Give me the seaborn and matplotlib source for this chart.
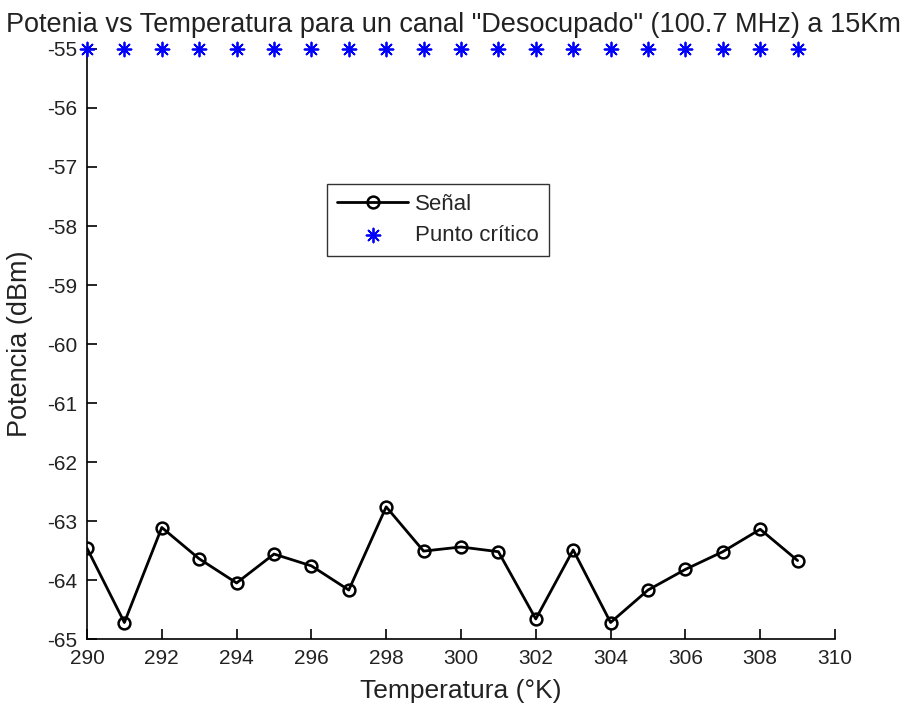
import matplotlib
matplotlib.use("Agg")
import matplotlib.pyplot as plt
import seaborn as sns
import pandas as pd

# Temperature sweep (°K) and measured power (dBm)
temperatura = [290, 291, 292, 293, 294, 295, 296, 297, 298, 299,
               300, 301, 302, 303, 304, 305, 306, 307, 308, 309]
potencia = [-63.46, -64.72, -63.11, -63.64, -64.05, -63.56, -63.76, -64.17, -62.76, -63.51,
            -63.44, -63.52, -64.66, -63.49, -64.72, -64.17, -63.82, -63.52, -63.14, -63.67]
# Critical threshold level
umbral = [-55.0] * len(temperatura)

xticks = [290, 292, 294, 296, 298, 300, 302, 304, 306, 308, 310]
yticks = [-65, -64, -63, -62, -61, -60, -59, -58, -57, -56, -55]

df = pd.DataFrame({"T": temperatura, "P": potencia, "U": umbral})

sns.set_theme(style="white")
plt.rcParams["font.family"] = ["Liberation Sans", "DejaVu Sans"]

fig = plt.figure(figsize=(9.08, 7.09), dpi=100)
ax = fig.add_axes([0.0958, 0.0987, 0.8238, 0.8322])

sns.lineplot(data=df, x="T", y="P", ax=ax, color="black", linewidth=2.0,
             marker="o", markersize=8.5, markerfacecolor="none",
             markeredgecolor="black", markeredgewidth=1.8, label="Señal")
sns.scatterplot(data=df, x="T", y="U", ax=ax, color=(0, 0, 1),
                marker=(8, 2, 0), s=100, linewidth=1.3,
                edgecolor=(0, 0, 1), label="Punto crítico", clip_on=False,
                zorder=5)

ax.set_xlim(290, 310)
ax.set_ylim(-65, -55)
ax.set_xticks(xticks)
ax.set_yticks(yticks)
ax.set_xticklabels([str(v) for v in xticks])
ax.set_yticklabels([str(v) for v in yticks])
ax.tick_params(axis="x", direction="in", length=7, width=1.2,
               labelsize=15, color="black", labelcolor="#222222", pad=7)
ax.tick_params(axis="y", direction="in", length=7, width=1.2,
               labelsize=15, color="black", labelcolor="#222222", pad=7)
ax.tick_params(axis="both", which="both", bottom=True, left=True)

for side in ("top", "right"):
    ax.spines[side].set_visible(False)
for side in ("left", "bottom"):
    ax.spines[side].set_color("black")
    ax.spines[side].set_linewidth(1.2)

ax.set_xlabel("Temperatura (°K)", fontsize=19, color="#222222", labelpad=8)
ax.set_ylabel("Potencia (dBm)", fontsize=19.5, color="#222222", labelpad=10)
ax.set_title('Potenia vs Temperatura para un canal "Desocupado" (100.7 MHz) a 15Km',
             fontsize=19.5, color="#222222", pad=12, x=0.49)

leg = ax.legend(loc="upper left", bbox_to_anchor=(0.321, 0.771), fontsize=16,
                frameon=True, fancybox=False, edgecolor="black",
                borderaxespad=0, borderpad=0.45, handlelength=3.2,
                handletextpad=0.3, labelspacing=0.45)
leg.get_frame().set_linewidth(1.0)

fig.savefig("out.png", dpi=100, facecolor="white")
